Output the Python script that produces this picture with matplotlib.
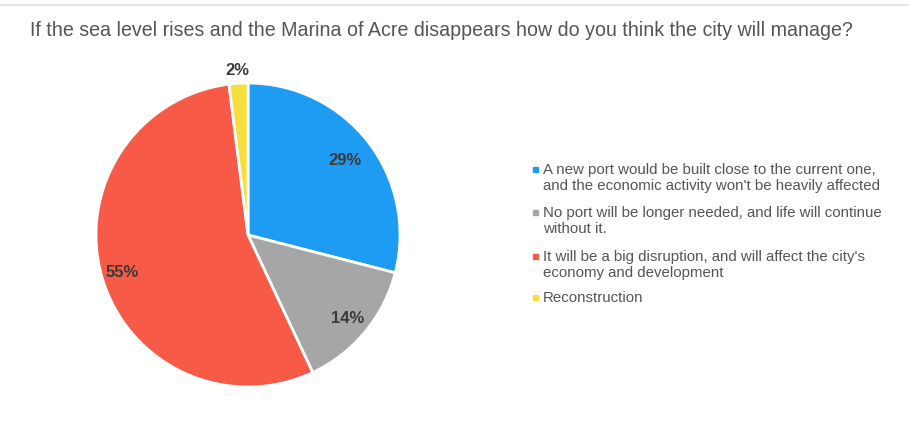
import numpy as np
import matplotlib
matplotlib.use("Agg")
import matplotlib.pyplot as plt

title = "If the sea level rises and the Marina of Acre disappears how do you think the city will manage?"
categories = [
    "A new port would be built close to the current one,\nand the economic activity won't be heavily affected",
    "No port will be longer needed, and life will continue\nwithout it.",
    "It will be a big disruption, and will affect the city's\neconomy and development",
    "Reconstruction",
]
values = [29, 14, 55, 2]
colors = ["#1E9BF2", "#A6A6A6", "#F85A48", "#F7DE3A"]

plt.rcParams['font.family'] = ['Liberation Sans', 'DejaVu Sans']

W, H = 909, 427
fig = plt.figure(figsize=(W / 100, H / 100), dpi=100)
fig.patch.set_facecolor("white")

# top faint rule
fig.add_artist(plt.Line2D([0, 1], [1 - 6 / H, 1 - 6 / H], color="#E6E6E6", lw=1.5))

fig.text(30 / W, 1 - 31 / H, title, fontsize=14.1, color="#555555", va="center", ha="left")

cx, cy, r = 248, 236, 152
ax = fig.add_axes([(cx - r) / W, (H - cy - r) / H, 2 * r / W, 2 * r / H])
wedges, _ = ax.pie(values, colors=colors, startangle=90, counterclock=False, radius=1,
                   wedgeprops=dict(edgecolor="white", linewidth=2))
ax.set_xlim(-1, 1)
ax.set_ylim(-1, 1)
ax.set_aspect("auto")
ax.axis("off")

dists = [0.81, 0.85, 0.86, 1.09]
for w, v, d in zip(wedges, values, dists):
    th = np.deg2rad((w.theta1 + w.theta2) / 2)
    ax.text(d * np.cos(th), d * np.sin(th), f"{v}%", ha="center", va="center",
            fontsize=12, fontweight="bold", color="#3A3A3A", clip_on=False)

# legend
item_y = [170, 213, 257, 298]
line_step = 16
for cat, col, y in zip(categories, colors, item_y):
    fig.patches.append(plt.Rectangle((533 / W, 1 - (y + 2.5) / H), 5 / W, 5 / H,
                                     transform=fig.transFigure, color=col))
    for k, line in enumerate(cat.split("\n")):
        fig.text(543 / W, 1 - (y + k * line_step) / H, line, fontsize=10.85,
                 color="#555555", va="center", ha="left")

fig.savefig("out.png", dpi=100)
